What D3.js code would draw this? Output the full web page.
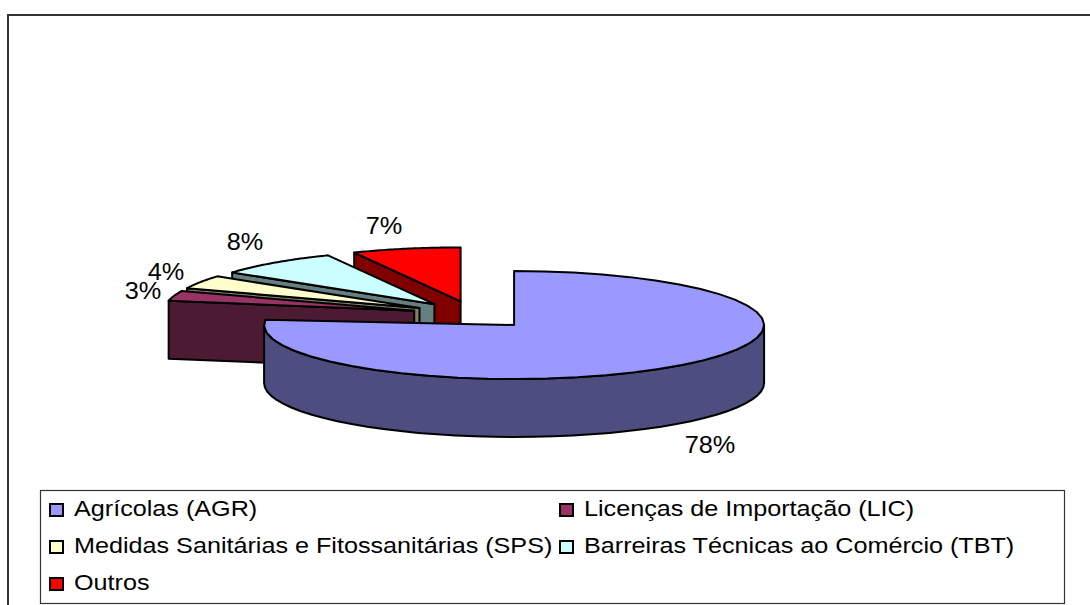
<!DOCTYPE html>
<html><head><meta charset="utf-8">
<script src="https://cdn.jsdelivr.net/npm/d3@7"></script>
<style>html,body{margin:0;padding:0;background:#fff}svg{display:block}text{font-family:"Liberation Sans",Arial,sans-serif;fill:#000}</style>
</head><body><div id="c"></div>
<script>
const categories = ["Agrícolas (AGR)","Licenças de Importação (LIC)","Medidas Sanitárias e Fitossanitárias (SPS)","Barreiras Técnicas ao Comércio (TBT)","Outros"];
const values = [78,3,4,8,7];
const labels = ["78%","3%","4%","8%","7%"];
const topColors = ["#9999ff","#993366","#ffffcc","#ccffff","#ff0000"];
const wallColors = ["#4d4d80","#4d1a33","#808066","#668080","#800000"];
const labelPos = [[710,453],[143,299],[166,280],[245,250],[384,234]];
const legendPos = [[50,509],[560,509],[50,546],[560,546],[50,583]];

const W=1090,H=605,cx=474.25,cy=314.6,rx=250,ry=54,depth=58,explode=0.25;
const frontEndTrim=0.09, legendStretch=1.145, labelStretch=1.1;
const svg=d3.select("#c").append("svg").attr("width",W).attr("height",H);
svg.append("path").attr("d",`M8,${H}V15H${W}`).attr("fill","none").attr("stroke","#333").attr("stroke-width",2);

const arcs=d3.pie().sort(null).value(d=>d)(values);
const pt=(a,ox,oy,dz=0)=>[ox+rx*Math.sin(a),oy-ry*Math.cos(a)+dz];
const line=d3.line();
const range=(a0,a1)=>d3.range(0,41).map(i=>a0+(a1-a0)*i/40);
const HALF=Math.PI/2, THREE=3*Math.PI/2;

const order=[4,3,2,1,0];
const g=svg.append("g").attr("stroke","#000").attr("stroke-width",2).attr("stroke-linejoin","round");
order.forEach(i=>{
  const d=arcs[i],mid=(d.startAngle+d.endAngle)/2;
  const ox=cx+explode*rx*Math.sin(mid),oy=cy-explode*ry*Math.cos(mid);
  const apex=[ox,oy],apexB=[ox,oy+depth];
  if(i>0){
    const s=pt(d.startAngle,ox,oy);
    g.append("path").attr("fill",wallColors[i]).attr("d",line([apex,s,[s[0],s[1]+depth],apexB])+"Z");
  } else {
    const a=range(HALF,THREE);
    const t=a.map(v=>pt(v,ox,oy)),b=a.map(v=>pt(v,ox,oy,depth)).reverse();
    g.append("path").attr("fill",wallColors[i]).attr("d",line(t.concat(b))+"Z");
  }
  const end=i===0?d.endAngle-frontEndTrim:d.endAngle;
  const top=[apex].concat(range(d.startAngle,end).map(v=>pt(v,ox,oy)));
  g.append("path").attr("fill",topColors[i]).attr("d",line(top)+"Z");
});

labels.forEach((t,i)=>svg.append("text")
  .attr("transform",`translate(${labelPos[i][0]},${labelPos[i][1]}) scale(${labelStretch},1)`)
  .attr("text-anchor","middle").attr("font-size",23).text(t));

svg.append("rect").attr("x",40.5).attr("y",490.5).attr("width",1024).attr("height",113).attr("fill","#fff").attr("stroke","#333").attr("stroke-width",1.2);
categories.forEach((t,i)=>{
  const [x,y]=legendPos[i];
  svg.append("rect").attr("x",x).attr("y",y-5).attr("width",13).attr("height",12).attr("fill",topColors[i]).attr("stroke","#000").attr("stroke-width",2);
  svg.append("text").attr("transform",`translate(${x+24},${y+7}) scale(${legendStretch},1)`).attr("font-size",22).text(t);
});
</script></body></html>
